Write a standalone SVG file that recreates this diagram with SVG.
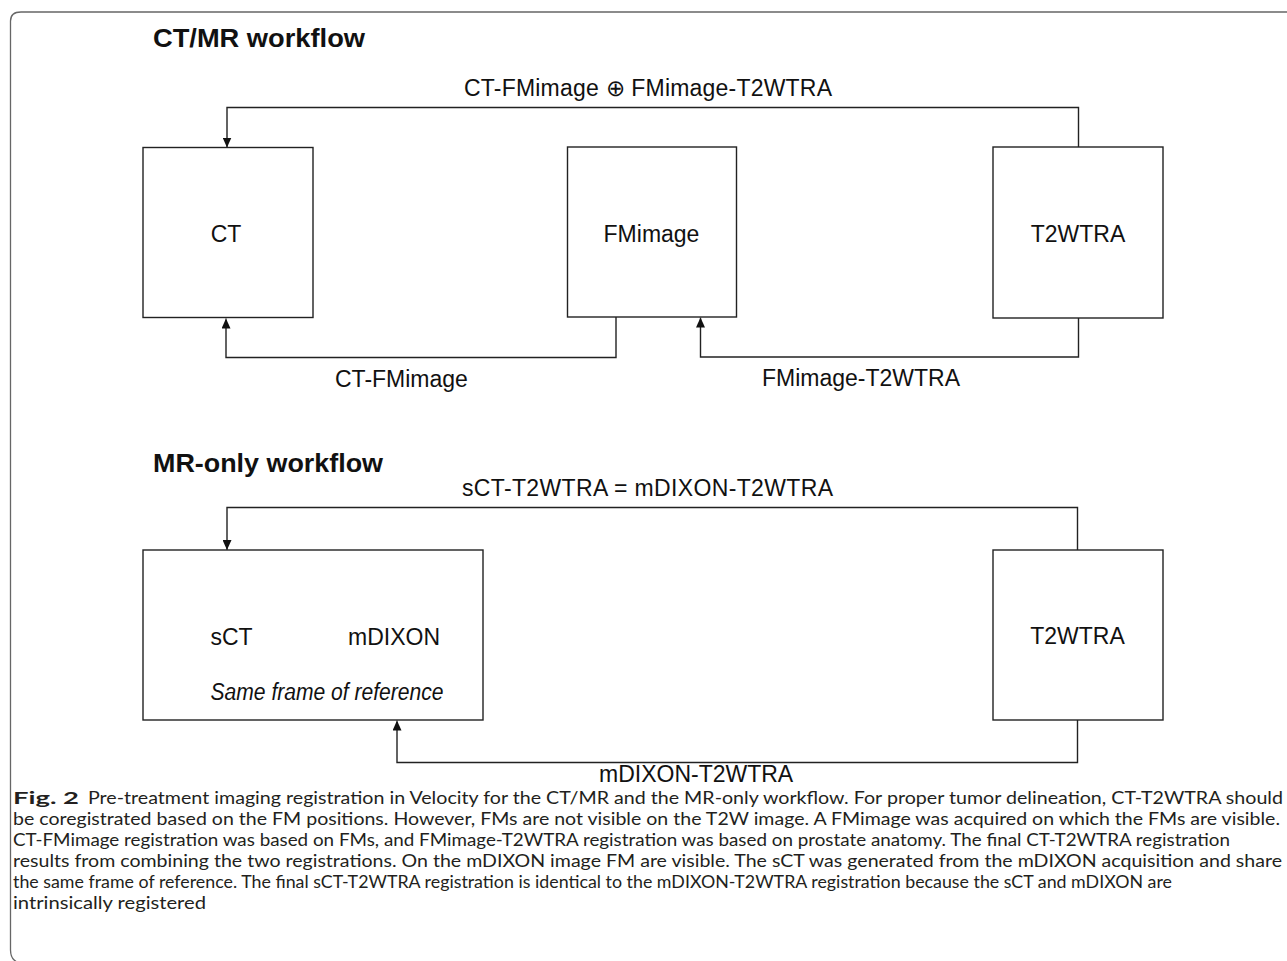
<svg xmlns="http://www.w3.org/2000/svg" width="1287" height="961" viewBox="0 0 1287 961">
<defs>
<marker id="arr" markerWidth="9" markerHeight="9" refX="10" refY="4.5" orient="auto" markerUnits="userSpaceOnUse">
<path d="M0,0 L10,4.5 L0,9 z" fill="#111"/>
</marker>
<style>
.box{fill:#fff;stroke:#222;stroke-width:1.4}
.lbl{font-family:"Liberation Sans",Arial,sans-serif;font-size:23px;fill:#111}
.ttl{font-family:"Liberation Sans",Arial,sans-serif;font-size:26px;font-weight:bold;fill:#111}
.conn{fill:none;stroke:#222;stroke-width:1.4}
.cap{font-family:Lato,"Open Sans",sans-serif;font-size:17.5px;fill:#231f20}
</style>
</defs>
<rect width="1287" height="961" fill="#fff"/>
<path d="M1287,12 H21 Q10.5,12 10.5,21 V950 Q10.5,959 17,962" fill="none" stroke="#666" stroke-width="1.3"/>

<text class="ttl" x="153" y="47" textLength="212" lengthAdjust="spacingAndGlyphs">CT/MR workflow</text>
<text class="ttl" x="153" y="472" textLength="230" lengthAdjust="spacingAndGlyphs">MR-only workflow</text>

<g id="connectors">
<path class="conn" d="M1078.5,147 V107.5 H227 V147.5" marker-end="url(#arr)"/>
<path class="conn" d="M616,317 V357.5 H226 V318.5" marker-end="url(#arr)"/>
<path class="conn" d="M1078.5,318 V357 H700.5 V317.5" marker-end="url(#arr)"/>
<path class="conn" d="M1077.5,550 V507.5 H227 V550" marker-end="url(#arr)"/>
<path class="conn" d="M1077.5,720 V762.5 H397 V720.5" marker-end="url(#arr)"/>
<text class="lbl" x="464" y="96" textLength="368">CT-FMimage  ⊕ FMimage-T2WTRA</text>
<text class="lbl" x="335" y="387">CT-FMimage</text>
<text class="lbl" x="762" y="386">FMimage-T2WTRA</text>
<text class="lbl" x="462" y="496" textLength="371">sCT-T2WTRA = mDIXON-T2WTRA</text>
<text class="lbl" x="599" y="781.5">mDIXON-T2WTRA</text>
</g>

<g id="node-ct">
<rect class="box" x="143" y="147.5" width="170" height="170"/>
<text class="lbl" x="226" y="242" text-anchor="middle">CT</text>
</g>
<g id="node-fmimage">
<rect class="box" x="567.5" y="147" width="169" height="170"/>
<text class="lbl" x="651.5" y="242" text-anchor="middle">FMimage</text>
</g>
<g id="node-t2wtra-top">
<rect class="box" x="993" y="147" width="170" height="171"/>
<text class="lbl" x="1078" y="242" text-anchor="middle">T2WTRA</text>
</g>
<g id="node-sct-mdixon">
<rect class="box" x="143" y="550" width="340" height="170"/>
<text class="lbl" x="210.5" y="645">sCT</text>
<text class="lbl" x="348" y="645">mDIXON</text>
<text class="lbl" x="210.5" y="700" font-size="22" font-style="italic" textLength="233" lengthAdjust="spacingAndGlyphs">Same frame of reference</text>
</g>
<g id="node-t2wtra-bottom">
<rect class="box" x="993" y="550" width="170" height="170"/>
<text class="lbl" x="1077.5" y="643.5" text-anchor="middle">T2WTRA</text>
</g>

<g id="caption">
<text class="cap" x="13" y="803.5" font-weight="bold" textLength="66" lengthAdjust="spacingAndGlyphs">Fig. 2</text>
<text class="cap" x="88" y="803.5" textLength="1195" lengthAdjust="spacingAndGlyphs">Pre-treatment imaging registration in Velocity for the CT/MR and the MR-only workflow. For proper tumor delineation, CT-T2WTRA should</text>
<text class="cap" x="13" y="824.5" textLength="1267" lengthAdjust="spacingAndGlyphs">be coregistrated based on the FM positions. However, FMs are not visible on the T2W image. A FMimage was acquired on which the FMs are visible.</text>
<text class="cap" x="13" y="845.5" textLength="1217" lengthAdjust="spacingAndGlyphs">CT-FMimage registration was based on FMs, and FMimage-T2WTRA registration was based on prostate anatomy. The final CT-T2WTRA registration</text>
<text class="cap" x="13" y="866.5" textLength="1269" lengthAdjust="spacingAndGlyphs">results from combining the two registrations. On the mDIXON image FM are visible. The sCT was generated from the mDIXON acquisition and share</text>
<text class="cap" x="13" y="887.5" textLength="1159" lengthAdjust="spacingAndGlyphs">the same frame of reference. The final sCT-T2WTRA registration is identical to the mDIXON-T2WTRA registration because the sCT and mDIXON are</text>
<text class="cap" x="13" y="908.5" textLength="193" lengthAdjust="spacingAndGlyphs">intrinsically registered</text>
</g>
</svg>
